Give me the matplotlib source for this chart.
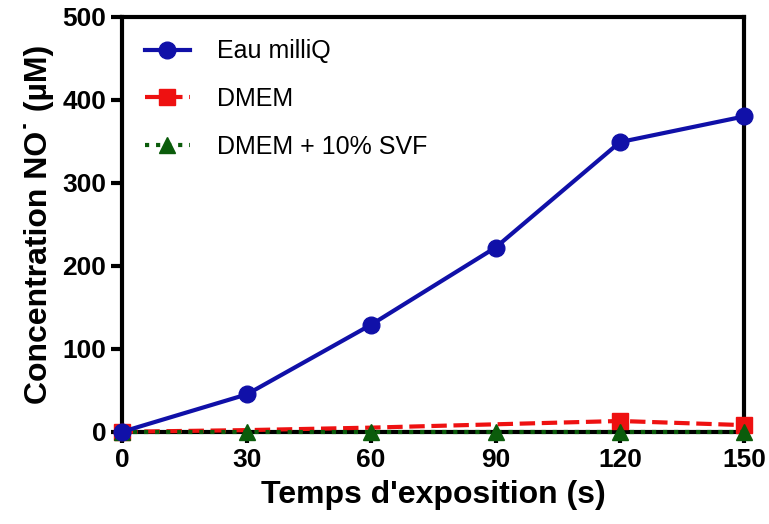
import matplotlib
matplotlib.use('Agg')
import matplotlib.pyplot as plt
import numpy as np

plt.rcParams['font.family'] = ['Liberation Sans', 'DejaVu Sans']

temps = [0, 30, 60, 90, 120, 150]
eau_milliq = [0, 45, 129, 222, 349, 380]
dmem = [0, 2, 5, 9, 13, 8]
dmem_svf = [0, 0, 0, 0, 0, 0]

fig, ax = plt.subplots(figsize=(7.69, 5.24), dpi=100)
fig.subplots_adjust(left=0.159, right=0.968, top=0.968, bottom=0.176)

ax.plot(temps, dmem_svf, color='#0b5c0b', linestyle=':', linewidth=3,
        marker='^', markersize=12, label='DMEM + 10% SVF', clip_on=False, zorder=4)
ax.plot(temps, dmem, color='#ee1111', linestyle='--', linewidth=3,
        marker='s', markersize=12, markevery=[0, 4, 5],
        label='DMEM', clip_on=False, zorder=3)
ax.plot(temps, eau_milliq, color='#1010a8', linestyle='-', linewidth=3,
        marker='o', markersize=12, label='Eau milliQ', clip_on=False, zorder=5)

ax.set_xlim(0, 150)
ax.set_ylim(0, 500)
ax.set_xticks(temps)
ax.set_yticks([0, 100, 200, 300, 400, 500])

for s in ax.spines.values():
    s.set_linewidth(3)
ax.tick_params(width=3, length=8, labelsize=19, direction='out')
for lab in ax.get_xticklabels() + ax.get_yticklabels():
    lab.set_fontweight('bold')

ax.set_xlabel("Temps d'exposition (s)", fontsize=23, fontweight='bold', labelpad=6)
ax.set_ylabel('Concentration NO\u02D9 (µM)', fontsize=23, fontweight='bold', labelpad=6)

h, l = ax.get_legend_handles_labels()
ax.legend(h[::-1], l[::-1], loc='upper left', frameon=False, fontsize=18,
          handlelength=1.8, labelspacing=0.95, borderaxespad=0.4, handletextpad=1.1,
          borderpad=0.5)

fig.savefig('out.png', dpi=100)
